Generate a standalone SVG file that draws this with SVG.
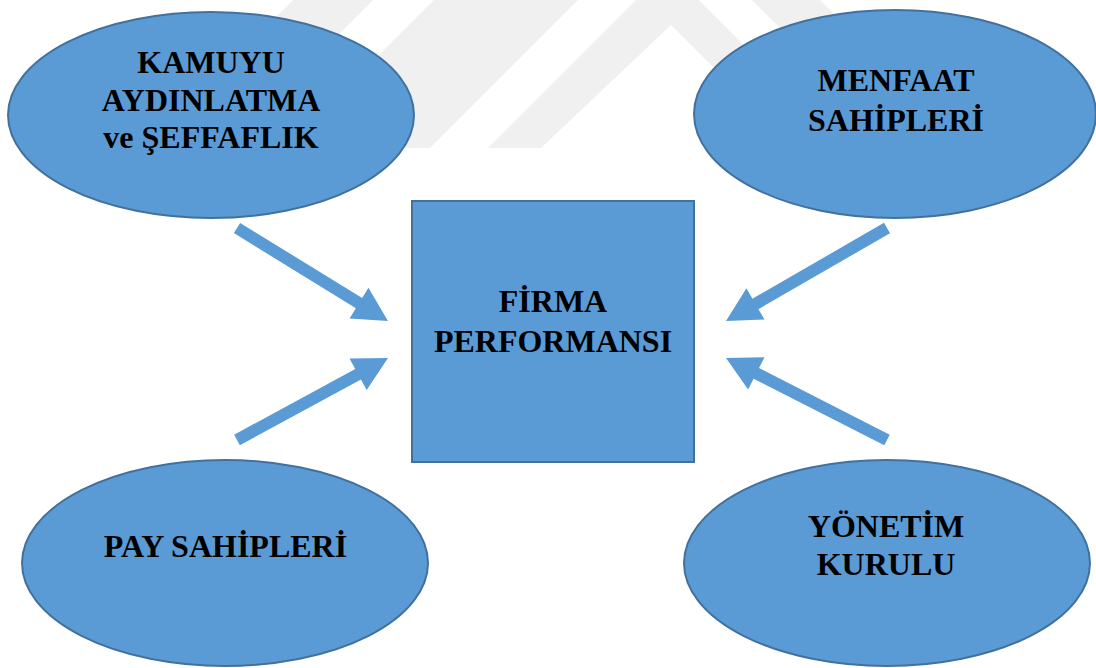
<svg xmlns="http://www.w3.org/2000/svg" width="1096" height="668" viewBox="0 0 1096 668">
  <style>
    .wm { fill: #F0F0F0; }
    .node { fill: #5B9BD5; stroke: #41719C; stroke-width: 2; }
    .arrow { fill: #5B9BD5; stroke: none; }
    .lbl { font-family: "Liberation Serif", "Times New Roman", serif; font-weight: bold; font-size: 32px; fill: #000; text-anchor: middle; }
  </style>
  <rect x="0" y="0" width="1096" height="668" fill="#FFFFFF"/>
  <g id="watermark">
    <polygon class="wm" points="293,0 373,0 224,149 144,149"/>
    <polygon class="wm" points="434,0 578,0 430,148 286,148"/>
    <polygon class="wm" points="488,148 541,148 671,25 760,114 813,114 699,0 636,0"/>
    <polygon class="wm" points="752,0 820,0 880,60 812,60"/>
  </g>
  <g id="connectors">
    <path class="arrow" d="M0,-6 H143.3 V-18 L177.3,0 L143.3,18 V6 H0 Z" transform="translate(237,228) rotate(31.63)"/>
    <path class="arrow" d="M0,-6 H137.8 V-18 L171.8,0 L137.8,18 V6 H0 Z" transform="translate(237,440) rotate(-28.5)"/>
    <path class="arrow" d="M0,-6 H151.9 V-18 L185.9,0 L151.9,18 V6 H0 Z" transform="translate(887,228) rotate(150.0)"/>
    <path class="arrow" d="M0,-6 H146.7 V-18 L180.7,0 L146.7,18 V6 H0 Z" transform="translate(887,440) rotate(-153.0)"/>
  </g>
  <g id="kamuyu">
    <ellipse class="node" cx="211" cy="115" rx="203" ry="103"/>
    <text class="lbl" x="211" y="73">KAMUYU</text>
    <text class="lbl" x="211" y="110.5">AYDINLATMA</text>
    <text class="lbl" x="211" y="148">ve ŞEFFAFLIK</text>
  </g>
  <g id="menfaat">
    <ellipse class="node" cx="895" cy="114" rx="201" ry="104"/>
    <text class="lbl" x="896" y="91">MENFAAT</text>
    <text class="lbl" x="896" y="131">SAHİPLERİ</text>
  </g>
  <g id="firma">
    <rect class="node" x="412" y="201" width="282" height="261"/>
    <text class="lbl" x="553" y="312">FİRMA</text>
    <text class="lbl" x="553" y="352">PERFORMANSI</text>
  </g>
  <g id="pay">
    <ellipse class="node" cx="225" cy="563" rx="203" ry="103"/>
    <text class="lbl" x="225.5" y="557">PAY SAHİPLERİ</text>
  </g>
  <g id="yonetim">
    <ellipse class="node" cx="887" cy="563" rx="203" ry="103"/>
    <text class="lbl" x="886" y="537">YÖNETİM</text>
    <text class="lbl" x="886" y="575">KURULU</text>
  </g>
</svg>
